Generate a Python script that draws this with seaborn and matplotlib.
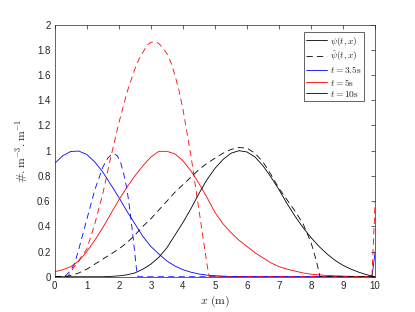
import matplotlib
matplotlib.use("Agg")
import matplotlib.pyplot as plt
from matplotlib.lines import Line2D
import seaborn as sns

# ---------------- data ----------------
# t = 3.5 s
x_blue_psi = [0, 0.25, 0.5, 0.75, 1, 1.25, 1.5, 1.75, 2, 2.25, 2.5, 2.75, 3, 3.25,
              3.5, 3.75, 4, 4.25, 4.5, 4.75, 5, 5.5, 6, 9.9, 10]
y_blue_psi = [0.90, 0.96, 0.994, 0.997, 0.97, 0.91, 0.83, 0.73, 0.63, 0.52, 0.42, 0.32,
              0.24, 0.18, 0.125, 0.085, 0.056, 0.036, 0.022, 0.013, 0.008, 0.002, 0, 0, 0.2]
x_blue_hat = [0, 0.3, 0.5, 0.625, 0.75, 1.0, 1.25, 1.5, 1.65, 1.75, 1.85, 1.95, 2.05,
              2.15, 2.25, 2.35, 2.45, 2.55, 2.6, 10]
y_blue_hat = [0, 0, 0.05, 0.11, 0.22, 0.455, 0.69, 0.87, 0.94, 0.965, 0.975, 0.96, 0.91,
              0.82, 0.70, 0.52, 0.30, 0.06, 0, 0]

# t = 5 s
x_red_psi = [0, 0.25, 0.5, 0.75, 1, 1.25, 1.5, 1.75, 2, 2.25, 2.5, 2.75, 3, 3.25, 3.5,
             3.75, 4, 4.25, 4.5, 4.75, 5, 5.25, 5.5, 5.75, 6, 6.25, 6.5, 6.75, 7, 7.25,
             7.5, 7.75, 8, 8.5, 9, 9.5, 10]
y_red_psi = [0.04, 0.055, 0.08, 0.125, 0.2, 0.29, 0.39, 0.5, 0.61, 0.71, 0.8, 0.88, 0.95,
             0.995, 0.995, 0.975, 0.92, 0.84, 0.74, 0.63, 0.51, 0.42, 0.35, 0.29, 0.24,
             0.19, 0.15, 0.11, 0.08, 0.06, 0.045, 0.03, 0.02, 0.01, 0.005, 0.002, 0]
x_red_hat = [0, 0.4, 0.5, 0.75, 1.0, 1.25, 1.5, 1.75, 2.0, 2.25, 2.5, 2.625, 2.75, 2.875,
             3.0, 3.125, 3.25, 3.375, 3.5, 3.625, 3.75, 3.875, 4.0, 4.25, 4.5, 4.75,
             4.82, 9.9, 10]
y_red_hat = [0, 0, 0.04, 0.13, 0.22, 0.42, 0.66, 0.95, 1.22, 1.46, 1.65, 1.725, 1.78,
             1.835, 1.86, 1.865, 1.85, 1.815, 1.77, 1.70, 1.6, 1.48, 1.33, 0.96, 0.53,
             0.1, 0, 0, 0.6]

# t = 10 s
x_black_psi = [0, 1.5, 1.75, 2, 2.25, 2.5, 2.75, 3, 3.25, 3.5, 3.75, 4, 4.25, 4.5, 4.75,
               5, 5.25, 5.5, 5.75, 6, 6.25, 6.5, 6.75, 7, 7.25, 7.5, 7.75, 8, 8.25, 8.5,
               8.75, 9, 9.25, 9.5, 9.75, 10]
y_black_psi = [0, 0, 0.003, 0.007, 0.015, 0.03, 0.06, 0.1, 0.155, 0.23, 0.33, 0.43, 0.54,
               0.66, 0.77, 0.86, 0.93, 0.98, 1.0, 0.99, 0.95, 0.88, 0.79, 0.69, 0.58,
               0.48, 0.39, 0.31, 0.24, 0.18, 0.13, 0.09, 0.06, 0.035, 0.015, 0.0]
x_black_hat = [0, 0.3, 0.5, 0.75, 1, 1.25, 1.5, 1.75, 2, 2.25, 2.5, 2.75, 3, 3.25, 3.5,
               3.75, 4, 4.25, 4.5, 4.75, 5, 5.25, 5.5, 5.75, 6, 6.25, 6.5, 6.75, 7, 7.25,
               7.5, 7.75, 8, 8.15, 8.28, 10]
y_black_hat = [0, 0, 0.01, 0.03, 0.06, 0.1, 0.14, 0.18, 0.22, 0.27, 0.33, 0.4, 0.46,
               0.53, 0.6, 0.67, 0.73, 0.79, 0.85, 0.9, 0.94, 0.98, 1.01, 1.025, 1.02,
               0.98, 0.91, 0.81, 0.70, 0.61, 0.52, 0.42, 0.27, 0.14, 0, 0]

x_ticks = [0, 1, 2, 3, 4, 5, 6, 7, 8, 9, 10]
x_tick_labels = ["0", "1", "2", "3", "4", "5", "6", "7", "8", "9", "10"]
y_ticks = [0, 0.2, 0.4, 0.6, 0.8, 1.0, 1.2, 1.4, 1.6, 1.8, 2.0]
y_tick_labels = ["0", "0.2", "0.4", "0.6", "0.8", "1", "1.2", "1.4", "1.6", "1.8", "2"]

legend_labels = [r"$\psi(t,x)$", r"$\hat{\psi}(t,x)$", r"$t=3.5\mathrm{s}$",
                 r"$t=5\mathrm{s}$", r"$t=10\mathrm{s}$"]

# ---------------- style ----------------
sns.set_style("white")
plt.rcParams["font.family"] = ["Liberation Sans", "DejaVu Sans"]
plt.rcParams["mathtext.fontset"] = "cm"
plt.rcParams["xtick.direction"] = "in"
plt.rcParams["ytick.direction"] = "in"

AX_COL = "#262626"
DASH = (0, (7.5, 5))
LW = 0.6

fig = plt.figure(figsize=(4.15, 3.12), dpi=100)
ax = fig.add_axes([0.132, 0.113, 0.772, 0.808])

curves = [
    (x_blue_psi, y_blue_psi, "#0000ff", "-"),
    (x_blue_hat, y_blue_hat, "#0000ff", DASH),
    (x_red_psi, y_red_psi, "#ff0000", "-"),
    (x_red_hat, y_red_hat, "#ff0000", DASH),
    (x_black_psi, y_black_psi, "#000000", "-"),
    (x_black_hat, y_black_hat, "#000000", DASH),
]
for xs, ys, col, ls in curves:
    sns.lineplot(x=xs, y=ys, ax=ax, color=col, linestyle=ls, linewidth=LW,
                 estimator=None, sort=False, legend=False)

ax.set_xlim(0, 10)
ax.set_ylim(0, 2)
ax.set_xticks(x_ticks)
ax.set_xticklabels(x_tick_labels)
ax.set_yticks(y_ticks)
ax.set_yticklabels(y_tick_labels)
ax.tick_params(axis="both", which="both", labelsize=7, length=3, width=0.5,
               color=AX_COL, labelcolor=AX_COL, top=True, right=True, pad=3)
for sp in ax.spines.values():
    sp.set_visible(True)
    sp.set_color(AX_COL)
    sp.set_linewidth(0.5)

ax.set_xlabel(r"$x\ (\mathrm{m})$", fontsize=8.5, color=AX_COL, labelpad=2)
ax.set_ylabel(r"$\#.\mathrm{m}^{-3}.\mathrm{m}^{-1}$", fontsize=8.5, color=AX_COL, labelpad=5)

handles = [
    Line2D([], [], color="#000000", linestyle="-", linewidth=LW),
    Line2D([], [], color="#000000", linestyle=DASH, linewidth=LW),
    Line2D([], [], color="#0000ff", linestyle="-", linewidth=LW),
    Line2D([], [], color="#ff0000", linestyle="-", linewidth=LW),
    Line2D([], [], color="#000000", linestyle="-", linewidth=LW),
]
leg = ax.legend(handles, legend_labels, loc="upper right", bbox_to_anchor=(0.966, 0.97),
                borderaxespad=0, fontsize=6.8, frameon=True, fancybox=False,
                framealpha=1, edgecolor=AX_COL, handlelength=2.2, handletextpad=0.4,
                labelspacing=0.12, borderpad=0.25)
leg.get_frame().set_linewidth(0.5)

fig.savefig("out.png", dpi=100)
